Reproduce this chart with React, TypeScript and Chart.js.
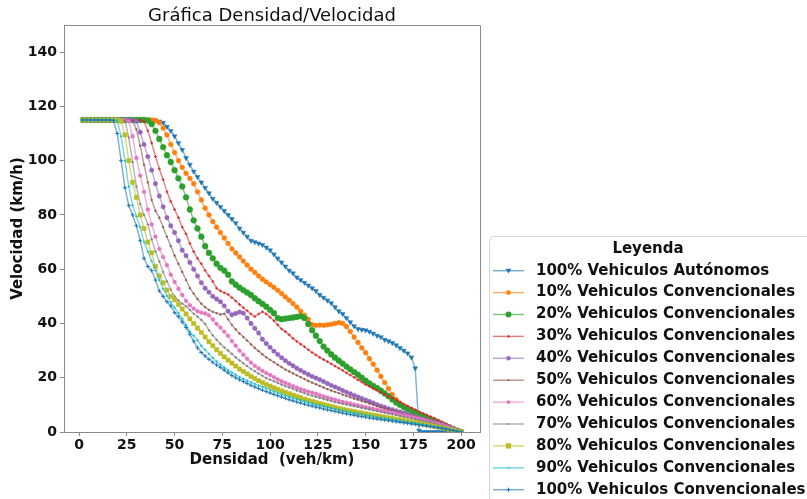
import React, { useEffect, useRef } from "react";
import { Chart, registerables } from "chart.js";

Chart.register(...registerables);

// Densidad (veh/km)
const DENSIDAD = [
  2, 4, 6, 8, 10, 12, 14, 16, 18, 20,
  22, 24, 26, 28, 30, 32, 34, 36, 38, 40,
  42, 44, 46, 48, 50, 52, 54, 56, 58, 60,
  62, 64, 66, 68, 70, 72, 74, 76, 78, 80,
  82, 84, 86, 88, 90, 92, 94, 96, 98, 100,
  102, 104, 106, 108, 110, 112, 114, 116, 118, 120,
  122, 124, 126, 128, 130, 132, 134, 136, 138, 140,
  142, 144, 146, 148, 150, 152, 154, 156, 158, 160,
  162, 164, 166, 168, 170, 172, 174, 176, 178, 180,
  182, 184, 186, 188, 190, 192, 194, 196, 198, 200,
];

// Velocidad (km/h) por mezcla de vehículos
const AUTONOMOS_100 = [
  115, 115, 115, 115, 115, 115, 115, 115, 115, 115,
  115, 115, 115, 115, 115, 115, 115, 115, 115, 114.8,
  114.5, 114, 112.5, 111, 109, 106.5, 104, 101, 98.5, 96,
  94, 92, 90, 88, 86, 84.5, 83, 81.5, 80, 78.5,
  77, 75, 73.5, 72, 70.5, 70, 69.5, 69, 68, 67,
  65.5, 64, 62.5, 61, 59.5, 58.5, 57, 56, 55, 54,
  53, 52, 50.5, 49.5, 48.5, 47.5, 46, 44.5, 43.5, 42,
  40.5, 39, 38, 37.7, 37.5, 37, 36.3, 35.5, 35, 34,
  33.5, 32.8, 32, 31, 30, 29, 27.5, 23.5, 0.5, 0,
  0, 0, 0, 0, 0, 0, 0, 0, 0, 0,
];

const CONV_10 = [
  115, 115, 115, 115, 115, 115, 115, 115, 115, 115,
  115, 115, 115, 115, 115, 115, 115, 115, 115, 114.8,
  114, 112, 109.5, 106, 103, 100, 97.5, 95.3, 93.5, 91.5,
  88.5, 85.5, 82.5, 80, 77.5, 75.5, 73.5, 71.5, 69.5, 67.5,
  66, 64.5, 63, 61.5, 60, 58.8, 57.5, 56.3, 55.3, 54.3,
  53.3, 52.2, 51, 49.8, 48.6, 47.3, 46, 44.5, 43, 41.5,
  39.6, 39.3, 39.4, 39.3, 39.5, 39.7, 40, 40.3, 40, 38.8,
  37, 35, 33, 31, 29.2, 27, 25, 22.8, 20.5, 18.2,
  16, 13.8, 12, 10.5, 9.3, 8.5, 8, 7.5, 6.8, 6.1,
  5.5, 4.9, 4.3, 3.7, 3.1, 2.5, 1.9, 1.3, 0.6, 0,
];

const CONV_20 = [
  115, 115, 115, 115, 115, 115, 115, 115, 115, 115,
  115, 115, 115, 115, 115, 115, 115, 114.8, 113.5, 111,
  108, 105, 102, 99.5, 96.5, 93.5, 90.5, 86.5, 82, 78,
  75, 72, 68.5, 66, 64, 62, 60.5, 59.5, 58, 55.5,
  54.3, 53.2, 52.3, 51.4, 50.5, 49.3, 48.2, 47.2, 46.2, 45,
  43.8, 42, 41.6, 41.8, 42, 42.2, 42.4, 42.7, 42, 39.8,
  37.5, 35.5, 33.5, 31.5, 30, 28.6, 27.4, 26.3, 25.2, 24.1,
  23.1, 22.1, 21.1, 20, 18.9, 17.9, 17, 16.2, 15.2, 14.2,
  13.2, 12, 10.9, 10, 9.2, 8.5, 7.8, 7.1, 6.4, 5.8,
  5.2, 4.6, 4, 3.4, 2.8, 2.2, 1.6, 1, 0.5, 0,
];

const CONV_30 = [
  115, 115, 115, 115, 115, 115, 115, 115, 115, 115,
  115, 115, 115, 115, 115, 115, 114.5, 111, 106.5, 101.5,
  97, 93, 88.5, 85, 82, 79, 75.5, 73, 69.5, 66.5,
  64, 62, 59.5, 57.5, 55.5, 53, 52, 51.3, 50.7, 49.5,
  48.3, 47, 45.8, 44.7, 43.5, 42.5, 43.5, 44.3, 43.5, 42.3,
  41, 39.5, 38, 37, 35.8, 34.5, 33.4, 32.4, 31.4, 30.3,
  29.3, 28.4, 27.5, 26.7, 25.9, 25.1, 24.3, 23.5, 22.7, 21.8,
  21, 20.1, 19.2, 18.4, 17.5, 16.8, 16, 15.3, 14.6, 13.9,
  13.2, 12.5, 11.8, 11.1, 10.3, 9.6, 8.9, 8.2, 7.5, 6.9,
  6.3, 5.7, 5.1, 4.4, 3.7, 3, 2.3, 1.5, 0.7, 0,
];

const CONV_40 = [
  115, 115, 115, 115, 115, 115, 115, 115, 115, 115,
  115, 115, 115, 115, 114.5, 110.5, 106, 101.5, 96.5, 91.5,
  87, 83, 79, 76, 73.5, 70.5, 67, 65, 62.5, 60,
  57.5, 55, 53, 51.5, 50, 49, 48, 46.5, 44.5, 43.2,
  43.7, 44.2, 43.8, 42, 40, 38.2, 36.5, 34.2, 32.6, 31.2,
  29.8, 28.6, 27.4, 26.3, 25.3, 24.4, 23.5, 22.7, 21.9, 21.2,
  20.5, 19.9, 19.3, 18.6, 17.9, 17.2, 16.6, 16, 15.3, 14.7,
  14.1, 13.5, 12.9, 12.4, 11.8, 11.3, 10.7, 10.1, 9.6, 9.1,
  8.6, 8.2, 7.8, 7.4, 7, 6.6, 6.1, 5.7, 5.2, 4.8,
  4.4, 4, 3.6, 3.2, 2.8, 2.3, 1.8, 1.2, 0.6, 0,
];

const CONV_50 = [
  115, 115, 115, 115, 115, 115, 115, 115, 115, 115,
  115, 115, 115, 114.8, 111.5, 105.5, 98.5, 92, 85.5, 81.5,
  79, 75.5, 72, 68.5, 65, 62, 59, 56, 53, 51,
  49, 47.3, 46, 45, 44.3, 43.8, 43.3, 43.6, 41.5, 39.5,
  37.8, 36.3, 35, 33.7, 32.3, 31, 29.8, 28.6, 27.5, 26.6,
  25.7, 24.8, 23.9, 23, 22.3, 21.6, 20.9, 20.2, 19.5, 18.8,
  18.2, 17.6, 17, 16.4, 15.8, 15.3, 14.8, 14.3, 13.8, 13.3,
  12.8, 12.3, 11.9, 11.4, 11, 10.5, 10.1, 9.6, 9.1, 8.7,
  8.3, 7.9, 7.5, 7.1, 6.8, 6.5, 6.1, 5.8, 5.4, 5,
  4.6, 4.3, 3.9, 3.4, 2.9, 2.4, 1.8, 1.2, 0.6, 0,
];

const CONV_60 = [
  115, 115, 115, 115, 115, 115, 115, 115, 115, 115,
  115, 115, 114.5, 109, 101, 94.5, 88.5, 82, 76.5, 72,
  67.5, 64.5, 61.5, 58, 55.3, 52.8, 50.5, 48.3, 46.7, 45.5,
  44.5, 44, 43.7, 43, 41.5, 39.8, 38.5, 37, 35.5, 33.5,
  31.8, 30, 28.5, 27, 25.6, 24.4, 23.4, 22.5, 21.7, 21,
  20.2, 19.4, 18.7, 18.1, 17.5, 16.9, 16.3, 15.8, 15.3, 14.9,
  14.5, 14.1, 13.6, 13.1, 12.7, 12.3, 11.9, 11.5, 11.1, 10.8,
  10.5, 10.1, 9.8, 9.5, 9.2, 8.9, 8.6, 8.3, 8, 7.7,
  7.4, 7.1, 6.8, 6.5, 6.2, 5.9, 5.6, 5.3, 5, 4.6,
  4.2, 3.8, 3.4, 3, 2.6, 2.1, 1.6, 1.1, 0.5, 0,
];

const CONV_70 = [
  115, 115, 115, 115, 115, 115, 115, 115, 115, 115,
  115, 114.8, 108.5, 99.5, 90.5, 84, 80, 76.5, 71, 66.5,
  62.8, 59, 55.5, 52.5, 50, 48.5, 47.3, 46.3, 45, 43.6,
  42.5, 41.3, 39.8, 37.5, 35.6, 34, 32.5, 31.2, 30, 28.8,
  27.5, 26.4, 25.3, 24.3, 23.3, 22.4, 21.5, 20.7, 19.9, 19.3,
  18.7, 18.1, 17.5, 16.9, 16.4, 15.9, 15.3, 14.8, 14.3, 13.8,
  13.4, 13, 12.6, 12.2, 11.8, 11.4, 11, 10.7, 10.4, 10.1,
  9.8, 9.5, 9.2, 8.9, 8.6, 8.3, 8, 7.7, 7.4, 7.1,
  6.8, 6.5, 6.2, 5.9, 5.6, 5.3, 5, 4.7, 4.4, 4.1,
  3.8, 3.5, 3.1, 2.7, 2.3, 1.9, 1.4, 1, 0.5, 0,
];

const CONV_80 = [
  115, 115, 115, 115, 115, 115, 115, 115, 115, 115,
  114.5, 109.5, 100, 92, 86.5, 80, 75, 70, 66, 61,
  57.5, 55, 52.3, 50, 48.7, 47, 45.3, 43.5, 41.7, 40,
  38.3, 36.7, 35, 33.3, 31.8, 30.3, 29, 27.7, 26.5, 25.4,
  24.3, 23.2, 22.3, 21.4, 20.5, 19.7, 18.9, 18.2, 17.5, 16.9,
  16.3, 15.7, 15.1, 14.6, 14.1, 13.6, 13.1, 12.6, 12.1, 11.7,
  11.3, 10.9, 10.5, 10.1, 9.8, 9.4, 9.1, 8.7, 8.4, 8.1,
  7.8, 7.5, 7.2, 7, 6.7, 6.5, 6.2, 6, 5.7, 5.5,
  5.2, 5, 4.7, 4.5, 4.2, 4, 3.7, 3.5, 3.2, 3,
  2.7, 2.4, 2.1, 1.8, 1.5, 1.2, 0.9, 0.6, 0.3, 0,
];

const CONV_90 = [
  115, 115, 115, 115, 115, 115, 115, 115, 115, 114.8,
  109, 100, 90.5, 83.5, 79.5, 75.5, 70, 66.5, 63, 59.5,
  56, 52.8, 50.2, 47.8, 45.8, 43.8, 41.8, 39.5, 37, 35.5,
  33.8, 31.8, 30.3, 28.8, 27.3, 26, 24.9, 23.8, 22.8, 21.9,
  21.1, 20.3, 19.6, 18.9, 18.3, 17.7, 17.1, 16.6, 16.1, 15.5,
  15, 14.4, 13.9, 13.4, 12.9, 12.5, 12.1, 11.7, 11.3, 10.9,
  10.5, 10.1, 9.8, 9.5, 9.1, 8.8, 8.5, 8.2, 7.9, 7.6,
  7.3, 7, 6.8, 6.5, 6.3, 6, 5.8, 5.5, 5.3, 5.1,
  4.8, 4.6, 4.4, 4.2, 3.9, 3.7, 3.5, 3.3, 3, 2.8,
  2.5, 2.3, 2, 1.8, 1.5, 1.2, 0.9, 0.6, 0.3, 0,
];

const CONV_100 = [
  115, 115, 115, 115, 115, 115, 115, 115, 114.8, 110,
  100, 90, 83.5, 80, 76, 70.5, 64, 61, 59.5, 56,
  52, 50, 48, 46.5, 44, 42.5, 40.5, 38.5, 36, 33.5,
  31, 29.3, 28, 26.8, 25.7, 24.7, 23.8, 22.8, 21.8, 20.8,
  20, 19.3, 18.6, 17.9, 17.2, 16.6, 16, 15.4, 14.9, 14.4,
  13.9, 13.4, 12.9, 12.4, 11.9, 11.5, 11.1, 10.7, 10.3, 9.9,
  9.6, 9.2, 8.9, 8.5, 8.2, 7.9, 7.6, 7.3, 7, 6.7,
  6.4, 6.2, 5.9, 5.7, 5.5, 5.2, 5, 4.8, 4.6, 4.4,
  4.2, 4, 3.8, 3.6, 3.4, 3.2, 3, 2.8, 2.6, 2.4,
  2.2, 2, 1.8, 1.6, 1.4, 1.1, 0.8, 0.5, 0.3, 0,
];

const SERIES_LABELS = [
  "100% Vehiculos Autónomos",
  "10% Vehiculos Convencionales",
  "20% Vehiculos Convencionales",
  "30% Vehiculos Convencionales",
  "40% Vehiculos Convencionales",
  "50% Vehiculos Convencionales",
  "60% Vehiculos Convencionales",
  "70% Vehiculos Convencionales",
  "80% Vehiculos Convencionales",
  "90% Vehiculos Convencionales",
  "100% Vehiculos Convencionales",
];

const SERIES_VALUES = [
  AUTONOMOS_100, CONV_10, CONV_20, CONV_30, CONV_40, CONV_50,
  CONV_60, CONV_70, CONV_80, CONV_90, CONV_100,
];

const X_TICKS = [0, 25, 50, 75, 100, 125, 150, 175, 200];
const Y_TICKS = [0, 20, 40, 60, 80, 100, 120, 140];

const TITLE = "Gráfica Densidad/Velocidad";
const X_TITLE = "Densidad  (veh/km)";
const Y_TITLE = "Velocidad (km/h)";
const LEGEND_TITLE = "Leyenda";

type MarkerStyle = { shape: "tri" | "circle" | "rect" | "cross"; r: number };

const COLORS = [
  [31, 119, 180], [255, 127, 14], [44, 160, 44], [214, 39, 40], [148, 103, 189],
  [140, 86, 75], [227, 119, 194], [127, 127, 127], [188, 189, 34], [23, 190, 207],
  [31, 119, 180],
];

const MARKERS: MarkerStyle[] = [
  { shape: "tri", r: 2.8 },
  { shape: "circle", r: 2.4 },
  { shape: "circle", r: 2.9 },
  { shape: "cross", r: 1.4 },
  { shape: "circle", r: 2.2 },
  { shape: "circle", r: 0.9 },
  { shape: "circle", r: 1.9 },
  { shape: "circle", r: 0.9 },
  { shape: "rect", r: 2.6 },
  { shape: "circle", r: 0.9 },
  { shape: "cross", r: 2 },
];

const FONT = "'DejaVu Sans', sans-serif";

const rgb = (c: number[], a = 1) => `rgba(${c[0]},${c[1]},${c[2]},${a})`;

function drawMarker(ctx: CanvasRenderingContext2D, m: MarkerStyle, x: number, y: number, color: string) {
  ctx.save();
  ctx.fillStyle = color;
  ctx.strokeStyle = color;
  ctx.lineWidth = 1;
  ctx.beginPath();
  if (m.shape === "circle") {
    ctx.arc(x, y, m.r, 0, Math.PI * 2);
    ctx.fill();
  } else if (m.shape === "rect") {
    ctx.rect(x - m.r, y - m.r, m.r * 2, m.r * 2);
    ctx.fill();
  } else if (m.shape === "tri") {
    ctx.moveTo(x - m.r, y - m.r * 0.7);
    ctx.lineTo(x + m.r, y - m.r * 0.7);
    ctx.lineTo(x, y + m.r);
    ctx.closePath();
    ctx.fill();
  } else {
    ctx.moveTo(x - m.r, y);
    ctx.lineTo(x + m.r, y);
    ctx.moveTo(x, y - m.r);
    ctx.lineTo(x, y + m.r);
    ctx.stroke();
  }
  ctx.restore();
}

const decorations = {
  id: "decorations",
  afterDraw(chart: any) {
    const ctx: CanvasRenderingContext2D = chart.ctx;
    const { left, right, top, bottom } = chart.chartArea;
    ctx.save();
    // top and right frame lines
    ctx.strokeStyle = "#8a8a8a";
    ctx.lineWidth = 1;
    ctx.beginPath();
    ctx.moveTo(left, top + 0.5);
    ctx.lineTo(right + 0.5, top + 0.5);
    ctx.lineTo(right + 0.5, bottom);
    ctx.stroke();

    // title
    ctx.fillStyle = "#111";
    ctx.font = `18px ${FONT}`;
    ctx.textAlign = "center";
    ctx.textBaseline = "middle";
    ctx.fillText(TITLE, (left + right) / 2, 16);

    // legend box
    const bx = 489.5, by = 236.5, bw = 330, bh = 280, rr = 4;
    ctx.beginPath();
    ctx.moveTo(bx + rr, by);
    ctx.lineTo(bx + bw - rr, by);
    ctx.quadraticCurveTo(bx + bw, by, bx + bw, by + rr);
    ctx.lineTo(bx + bw, by + bh - rr);
    ctx.quadraticCurveTo(bx + bw, by + bh, bx + bw - rr, by + bh);
    ctx.lineTo(bx + rr, by + bh);
    ctx.quadraticCurveTo(bx, by + bh, bx, by + bh - rr);
    ctx.lineTo(bx, by + rr);
    ctx.quadraticCurveTo(bx, by, bx + rr, by);
    ctx.closePath();
    ctx.fillStyle = "rgba(255,255,255,0.9)";
    ctx.fill();
    ctx.strokeStyle = "#d6d6d6";
    ctx.stroke();

    ctx.fillStyle = "#111";
    ctx.font = `bold 15px ${FONT}`;
    ctx.textAlign = "center";
    ctx.fillText(LEGEND_TITLE, 648, 249);

    ctx.textAlign = "left";
    SERIES_LABELS.forEach((label, i) => {
      const y = 270.7 + i * 21.9;
      ctx.strokeStyle = rgb(COLORS[i], 0.6);
      ctx.lineWidth = 1.5;
      ctx.beginPath();
      ctx.moveTo(493, y);
      ctx.lineTo(524, y);
      ctx.stroke();
      drawMarker(ctx, MARKERS[i], 508.5, y, rgb(COLORS[i]));
      ctx.fillStyle = "#111";
      ctx.fillText(label, 536, y);
    });
    ctx.restore();
  },
};

export default function App() {
  const canvasRef = useRef<HTMLCanvasElement>(null);

  useEffect(() => {
    const canvas = canvasRef.current;
    if (!canvas) return;

    const datasets = SERIES_VALUES.map((values, i) => {
      const m = MARKERS[i];
      const pointStyle =
        m.shape === "tri" ? "triangle" : m.shape === "rect" ? "rect" : m.shape === "cross" ? "cross" : "circle";
      return {
        label: SERIES_LABELS[i],
        data: DENSIDAD.map((d, j) => ({ x: d, y: values[j] })),
        borderColor: rgb(COLORS[i], 0.6),
        backgroundColor: rgb(COLORS[i]),
        borderWidth: 1.4,
        pointStyle,
        pointRotation: m.shape === "tri" ? 180 : 0,
        pointRadius: m.shape === "rect" ? m.r * 1.15 : m.r,
        pointBackgroundColor: rgb(COLORS[i]),
        pointBorderColor: rgb(COLORS[i]),
        pointBorderWidth: m.shape === "cross" ? 1 : 0.5,
        pointHoverRadius: m.r,
        tension: 0,
        fill: false,
        order: -i,
      };
    });

    const tickFont = { family: FONT, size: 14, weight: "bold" as const };
    const titleFont = { family: FONT, size: 15, weight: "bold" as const };

    const chart = new Chart(canvas, {
      type: "line",
      data: { datasets: datasets as any },
      options: {
        responsive: false,
        animation: false,
        devicePixelRatio: 1,
        layout: { padding: { top: 25, right: 327, bottom: 0, left: 0 } },
        plugins: {
          legend: { display: false },
          title: { display: false },
          tooltip: { enabled: false },
        },
        scales: {
          x: {
            type: "linear",
            min: -7.9,
            max: 209.9,
            afterBuildTicks: (s: any) => {
              s.ticks = X_TICKS.map((v) => ({ value: v }));
            },
            afterFit: (s: any) => {
              s.height = 67;
            },
            ticks: {
              font: tickFont,
              color: "#111",
              padding: 1,
              maxRotation: 0,
              autoSkip: false,
              callback: (v: any) => String(v),
            },
            grid: { drawOnChartArea: false, tickLength: 4, color: "#8a8a8a" },
            border: { color: "#8a8a8a", width: 1 },
            title: {
              display: true,
              text: X_TITLE,
              font: titleFont,
              color: "#111",
              padding: { top: 0, bottom: 30 },
            },
          },
          y: {
            type: "linear",
            min: 0,
            max: 150,
            afterBuildTicks: (s: any) => {
              s.ticks = Y_TICKS.map((v) => ({ value: v }));
            },
            afterFit: (s: any) => {
              s.width = 64;
            },
            ticks: {
              font: tickFont,
              color: "#111",
              padding: 3,
              autoSkip: false,
              callback: (v: any) => String(v),
            },
            grid: { drawOnChartArea: false, tickLength: 4, color: "#8a8a8a" },
            border: { color: "#8a8a8a", width: 1 },
            title: {
              display: true,
              text: Y_TITLE,
              font: titleFont,
              color: "#111",
              padding: { top: 9, bottom: 0 },
            },
          },
        },
      },
      plugins: [decorations],
    });

    return () => chart.destroy();
  }, []);

  return (
    <div style={{ position: "fixed", left: 0, top: 0, width: 807, height: 499, background: "#fff" }}>
      <canvas ref={canvasRef} width={807} height={499} style={{ display: "block" }} />
    </div>
  );
}
